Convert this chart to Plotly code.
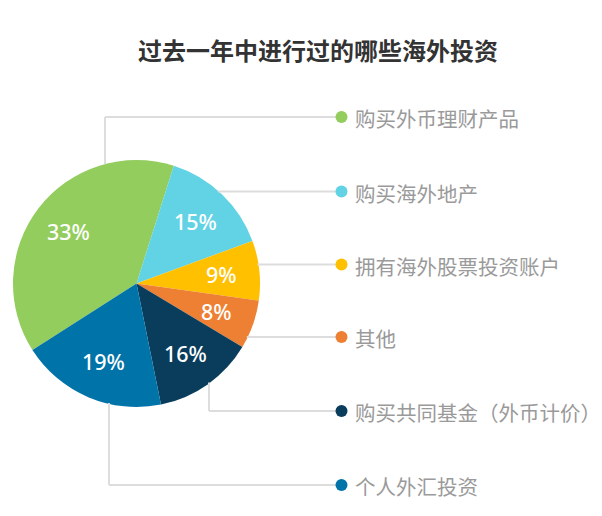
import math
import plotly.graph_objects as go

# ---- data ----
categories = ["购买外币理财产品", "购买海外地产", "拥有海外股票投资账户", "其他",
              "购买共同基金（外币计价）", "个人外汇投资"]
slice_values = [38.9, 14.5, 7.8, 6.4, 13.2, 19.1]   # drawn slice sizes
pct_labels = ["33%", "15%", "9%", "8%", "16%", "19%"]
colors = ["#92cd5d", "#62d3e4", "#ffc000", "#ee8033", "#0a3d5c", "#0073a8"]
title_text = "过去一年中进行过的哪些海外投资"

# ---- layout constants (pixels) ----
W, H = 602, 516
CX, CY, R = 136.5, 283.5, 123.5
ROTATION = 237.4
LEG_X = 341.5
LEG_Y = [117, 191.5, 264.5, 337, 411, 485]
LINE_COLOR = "#dddddd"
CJK = "Noto Sans CJK SC"


def px(x):
    return x / W


def py(y):
    return 1 - y / H


fig = go.Figure()
fig.add_trace(go.Pie(
    labels=categories,
    values=slice_values,
    sort=False,
    direction="clockwise",
    rotation=ROTATION,
    marker=dict(colors=colors, line=dict(width=0)),
    textinfo="none",
    hoverinfo="label",
    showlegend=False,
    domain=dict(x=[px(CX - R), px(CX + R)], y=[py(CY + R), py(CY - R)]),
))

shapes = []
annotations = []

# percentage labels, placed at each slice's mid-angle
total = sum(slice_values)
cum = 0.0
for v, t in zip(slice_values, pct_labels):
    mid = ROTATION + (cum + v / 2) / total * 360
    cum += v
    a = math.radians(mid)
    rr = 0.69 * R
    x = CX + rr * math.sin(a)
    y = CY - rr * math.cos(a)
    annotations.append(dict(x=px(x), y=py(y), xref="paper", yref="paper", text=t,
                            showarrow=False, xanchor="center", yanchor="middle",
                            font=dict(family="Noto Sans", size=21.5, color="white", weight=500)))


def edge_y_at_x(x, upper):
    d = math.sqrt(max(R * R - (x - CX) ** 2, 0))
    return CY - d if upper else CY + d


def edge_x_at_y(y):
    d = math.sqrt(max(R * R - (y - CY) ** 2, 0))
    return CX + d


def seg(x0, y0, x1, y1):
    shapes.append(dict(type="line", xref="paper", yref="paper",
                       x0=px(x0), y0=py(y0), x1=px(x1), y1=py(y1),
                       line=dict(color=LINE_COLOR, width=2)))


# connectors
vx = 105
seg(vx, edge_y_at_x(vx, True), vx, LEG_Y[0])
seg(vx, LEG_Y[0], LEG_X, LEG_Y[0])
for i in (1, 2, 3):
    seg(edge_x_at_y(LEG_Y[i]) - 1, LEG_Y[i], LEG_X, LEG_Y[i])
vx = 209
seg(vx, edge_y_at_x(vx, False) - 1, vx, LEG_Y[4])
seg(vx, LEG_Y[4], LEG_X, LEG_Y[4])
vx = 109
seg(vx, edge_y_at_x(vx, False) - 1, vx, LEG_Y[5])
seg(vx, LEG_Y[5], LEG_X, LEG_Y[5])

# legend markers + text
mr = 6
for i, (name, c) in enumerate(zip(categories, colors)):
    y = LEG_Y[i]
    shapes.append(dict(type="circle", xref="paper", yref="paper",
                       x0=px(LEG_X - mr), x1=px(LEG_X + mr),
                       y0=py(y + mr), y1=py(y - mr),
                       fillcolor=c, line=dict(width=0)))
    annotations.append(dict(x=px(353), y=py(y + 1), xref="paper", yref="paper",
                            text=name, showarrow=False, xanchor="left", yanchor="middle",
                            font=dict(family=CJK, size=20.5, color="#9a9a9a")))

# title
annotations.append(dict(x=px(318), y=py(50), xref="paper", yref="paper",
                        text="<b>" + title_text + "</b>", showarrow=False,
                        xanchor="center", yanchor="middle",
                        font=dict(family=CJK, size=24, color="#333333")))

fig.update_layout(
    width=W, height=H, autosize=False,
    margin=dict(l=0, r=0, t=0, b=0),
    paper_bgcolor="white", plot_bgcolor="white",
    shapes=shapes, annotations=annotations,
)

fig.write_html("out.html", config={"displayModeBar": False},
               post_script="document.body.style.margin='0';")
